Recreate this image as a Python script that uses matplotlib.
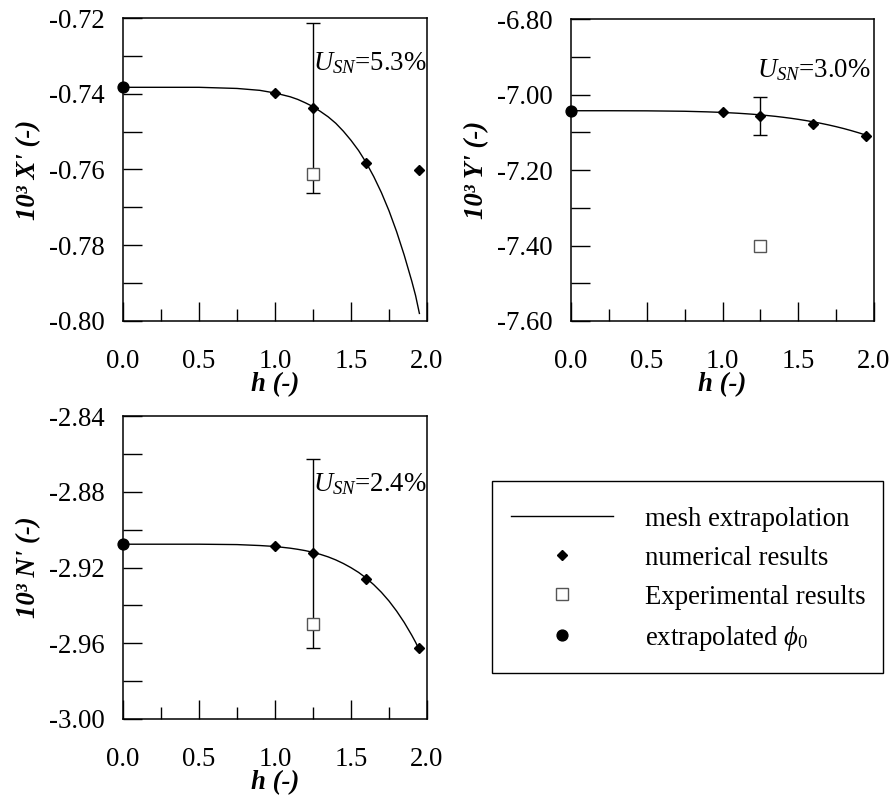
import matplotlib
matplotlib.use("Agg")
import matplotlib.pyplot as plt
from matplotlib.patches import Rectangle
from matplotlib.ticker import MultipleLocator, FormatStrFormatter

# Fonts: Times-like serif
plt.rcParams['font.family'] = ['Liberation Serif', 'DejaVu Serif']
plt.rcParams['mathtext.fontset'] = 'custom'
plt.rcParams['mathtext.rm'] = 'Liberation Serif'
plt.rcParams['mathtext.it'] = 'Liberation Serif:italic'
plt.rcParams['mathtext.bf'] = 'Liberation Serif:bold'
FS = 19.3

# Mesh sizes of the numerical results
h_num = [1.0, 1.25, 1.6, 1.95]
h_exp = 1.25

# Points
h_curve = [0.0, 0.25, 0.5, 0.75, 0.9, 1.0, 1.1, 1.15, 1.2, 1.25, 1.3, 1.35, 1.4,
           1.45, 1.5, 1.55, 1.6, 1.65, 1.7, 1.75, 1.8, 1.85, 1.9, 1.925, 1.95]
x_curve = [-0.7383, -0.7383, -0.7383, -0.7386, -0.7391, -0.7398, -0.7408, -0.7415,
           -0.7424, -0.7434, -0.7447, -0.7461, -0.7478, -0.7499, -0.7523, -0.7550,
           -0.7582, -0.7619, -0.7661, -0.7709, -0.7764, -0.7826, -0.7895, -0.7933,
           -0.7980]
y_curve = [-7.043, -7.043, -7.0433, -7.0444, -7.046, -7.0475, -7.0496, -7.0509,
           -7.0523, -7.054, -7.0559, -7.0579, -7.0603, -7.0629, -7.0658, -7.069,
           -7.0725, -7.0764, -7.0806, -7.0852, -7.0902, -7.0957, -7.1016, -7.1048,
           -7.108]
n_curve = [-2.9077, -2.9077, -2.9077, -2.9079, -2.9084, -2.9089, -2.9098, -2.9104,
           -2.9111, -2.9120, -2.9131, -2.9144, -2.9160, -2.9179, -2.9201, -2.9226,
           -2.9256, -2.9291, -2.9331, -2.9377, -2.9430, -2.9490, -2.9558, -2.9595,
           -2.9636]

# X' panel
x_num = [-0.7398, -0.7438, -0.7582, -0.7602]
x_exp = -0.7612
x_phi0 = -0.7383
x_err = 0.0225

# Y' panel
y_num = [-7.047, -7.056, -7.077, -7.110]
y_exp = -7.400
y_phi0 = -7.043
y_err = 0.050

# N' panel
n_num = [-2.9089, -2.9124, -2.9260, -2.9625]
n_exp = -2.9500
n_phi0 = -2.9077
n_err = 0.0499

W, H = 893, 799
fig = plt.figure(figsize=(W / 100, H / 100), dpi=100)


def px_axes(x0, y0, x1, y1):
    return fig.add_axes([x0 / W, 1 - y1 / H, (x1 - x0) / W, (y1 - y0) / H])


def draw_panel(ax, curve, num, exp, phi0, err, ylim, ymajor, yminor, yfmt,
               ylabel, usn, usn_xy):
    line, = ax.plot(h_curve, curve, color='black', lw=1.0, label='mesh extrapolation')
    # error bar on the finest-but-one numerical result
    ax.errorbar([h_num[1]], [num[1]], yerr=[err], fmt='none', ecolor='black',
                elinewidth=1.0, capsize=5, capthick=1.0, zorder=3)
    dia, = ax.plot(h_num, num, 'D', color='black', ms=4.8, ls='none',
                   label='numerical results', zorder=4)
    sq, = ax.plot([h_exp], [exp], 's', mfc='white', mec='#555555', mew=1.0, ms=8,
                  ls='none', label='Experimental results', zorder=5)
    dot, = ax.plot([0.0], [phi0], 'o', color='black', ms=7.8, ls='none',
                   label=r'extrapolated $\phi_{\mathit{0}}$', zorder=6, clip_on=False)

    ax.set_xlim(0, 2.0)
    ax.set_ylim(*ylim)
    ax.xaxis.set_major_locator(MultipleLocator(0.5))
    ax.xaxis.set_minor_locator(MultipleLocator(0.25))
    ax.xaxis.set_major_formatter(FormatStrFormatter('%.1f'))
    ax.yaxis.set_major_locator(MultipleLocator(ymajor))
    ax.yaxis.set_minor_locator(MultipleLocator(yminor))
    ax.yaxis.set_major_formatter(FormatStrFormatter(yfmt))

    ax.tick_params(axis='x', which='major', direction='in', length=13.5, width=1,
                   pad=20, labelsize=FS, top=False)
    ax.tick_params(axis='x', which='minor', direction='in', length=8.5, width=1, top=False)
    ax.tick_params(axis='y', which='both', direction='in', length=14, width=1,
                   pad=13, labelsize=FS, right=False)
    for s in ax.spines.values():
        s.set_linewidth(1.1)

    ax.set_xlabel('h (-)', fontsize=FS, fontweight='bold', fontstyle='italic', labelpad=-1)
    ax.set_ylabel(ylabel, fontsize=FS, fontweight='bold', fontstyle='italic', labelpad=6)
    ax.text(usn_xy[0], usn_xy[1], r'$U_{SN}$=' + usn, fontsize=FS,
            transform=ax.transAxes, ha='left', va='center')
    return [line, dia, sq, dot]


ax1 = px_axes(123, 18, 427, 321)
handles = draw_panel(ax1, x_curve, x_num, x_exp, x_phi0, x_err, (-0.80, -0.72),
                     0.02, 0.01, '%.2f', "10³ X' (-)", '5.3%', (0.625, 0.85))

ax2 = px_axes(571, 19, 874, 321)
draw_panel(ax2, y_curve, y_num, y_exp, y_phi0, y_err, (-7.60, -6.80),
           0.2, 0.1, '%.2f', "10³ Y' (-)", '3.0%', (0.615, 0.83))

ax3 = px_axes(123, 416, 427, 719)
draw_panel(ax3, n_curve, n_num, n_exp, n_phi0, n_err, (-3.00, -2.84),
           0.04, 0.02, '%.2f', "10³ N' (-)", '2.4%', (0.625, 0.775))

# Legend box drawn separately so that its size matches the reference
fig.patches.append(Rectangle((492 / W, 1 - 673 / H), (883 - 492) / W, (673 - 481) / H,
                             transform=fig.transFigure, fill=False,
                             edgecolor='black', linewidth=1.0))
leg = fig.legend(handles=handles, loc='upper left',
                 bbox_to_anchor=(492 / W, 1 - 488 / H), borderaxespad=0,
                 fontsize=FS, frameon=False,
                 handlelength=3.8, handletextpad=1.2, borderpad=0.7,
                 labelspacing=0.52)

fig.savefig('out.png', dpi=100, facecolor='white')
